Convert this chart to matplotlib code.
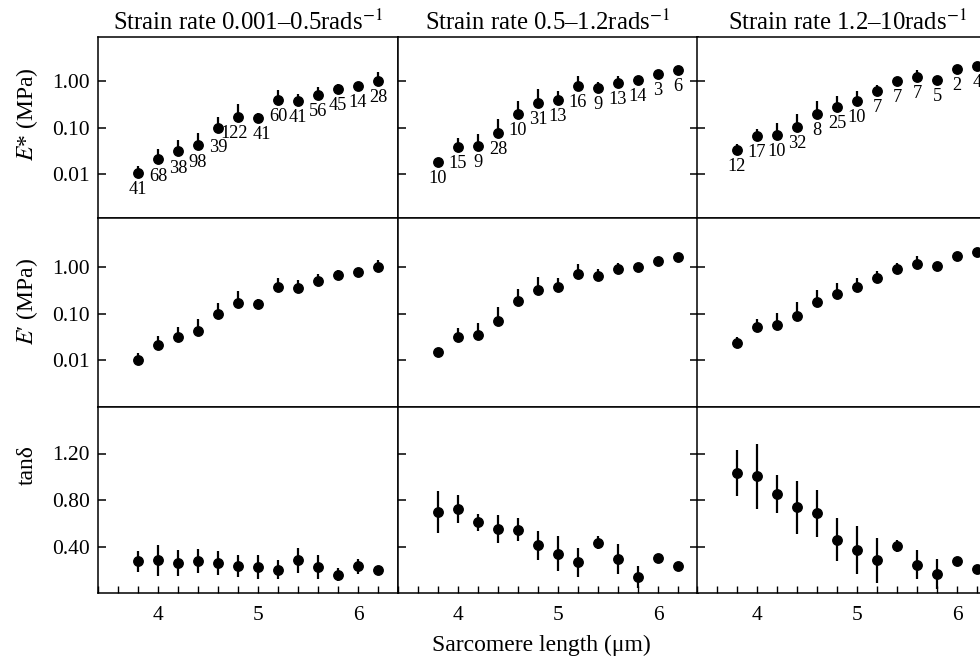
import matplotlib
matplotlib.use("Agg")
import matplotlib.pyplot as plt
from matplotlib.ticker import MultipleLocator, NullLocator

plt.rcParams['font.family'] = ['Liberation Serif', 'DejaVu Serif']
plt.rcParams['mathtext.fontset'] = 'stix'

# ---------------- data ----------------
sarcomere = [3.8, 4.0, 4.2, 4.4, 4.6, 4.8, 5.0, 5.2, 5.4, 5.6, 5.8, 6.0, 6.2]
titles = ["Strain rate 0.001\u20130.5rads$^{-1}$",
          "Strain rate 0.5\u20131.2rads$^{-1}$",
          "Strain rate 1.2\u201310rads$^{-1}$"]

# E* (MPa)
estar_low = [0.0107, 0.021, 0.031, 0.042, 0.10, 0.17, 0.163, 0.39, 0.377, 0.515, 0.69, 0.79, 1.03]
estar_low_err = [0.0042, 0.0134, 0.0225, 0.0368, 0.075, 0.149, 0.046, 0.25, 0.164, 0.239, 0.193, 0.05, 0.554]
n_low = [41, 68, 38, 98, 39, 122, 41, 60, 41, 56, 45, 14, 28]

estar_mid = [0.0184, 0.0386, 0.040, 0.077, 0.20, 0.347, 0.39, 0.78, 0.72, 0.93, 1.05, 1.44, 1.75]
estar_mid_err = [0.0026, 0.0217, 0.035, 0.079, 0.186, 0.347, 0.219, 0.50, 0.249, 0.34, 0.0, 0.0, 0.0]
n_mid = [10, 15, 9, 28, 10, 31, 13, 16, 9, 13, 14, 3, 6]

estar_high = [0.0328, 0.0667, 0.069, 0.104, 0.20, 0.28, 0.377, 0.61, 1.00, 1.24, 1.08, 1.81, 2.13]
estar_high_err = [0.0129, 0.0291, 0.0579, 0.097, 0.168, 0.203, 0.233, 0.24, 0.237, 0.487, 0.0, 0.0, 0.0]
n_high = [12, 17, 10, 32, 8, 25, 10, 7, 7, 7, 5, 2, 4]

# E' (MPa)
eprime_low = [0.0103, 0.021, 0.031, 0.042, 0.099, 0.17, 0.163, 0.38, 0.36, 0.50, 0.67, 0.78, 1.00]
eprime_low_err = [0.0040, 0.0118, 0.0198, 0.0352, 0.0718, 0.133, 0.049, 0.204, 0.167, 0.218, 0.188, 0.0, 0.464]

eprime_mid = [0.0151, 0.0317, 0.0356, 0.069, 0.186, 0.33, 0.377, 0.73, 0.64, 0.92, 1.01, 1.35, 1.67]
eprime_mid_err = [0.0, 0.0178, 0.028, 0.069, 0.163, 0.277, 0.212, 0.467, 0.279, 0.318, 0.0, 0.0, 0.0]

eprime_high = [0.0236, 0.0513, 0.0566, 0.0883, 0.18, 0.267, 0.37, 0.59, 0.92, 1.19, 1.08, 1.72, 2.13]
eprime_high_err = [0.0082, 0.026, 0.0475, 0.0883, 0.151, 0.194, 0.216, 0.232, 0.318, 0.519, 0.0, 0.0, 0.0]

# tan delta
tan_low = [0.271, 0.28, 0.26, 0.274, 0.257, 0.234, 0.223, 0.20, 0.28, 0.223, 0.157, 0.229, 0.194]
tan_low_err = [0.094, 0.133, 0.114, 0.103, 0.10, 0.093, 0.10, 0.081, 0.104, 0.103, 0.056, 0.064, 0.03]

tan_mid = [0.70, 0.722, 0.608, 0.551, 0.546, 0.409, 0.337, 0.265, 0.434, 0.291, 0.137, 0.30, 0.229]
tan_mid_err = [0.181, 0.123, 0.074, 0.117, 0.10, 0.126, 0.15, 0.126, 0.056, 0.129, 0.097, 0.0, 0.0]

tan_high = [1.031, 1.005, 0.851, 0.737, 0.685, 0.457, 0.371, 0.28, 0.405, 0.242, 0.165, 0.271, 0.205]
tan_high_err = [0.196, 0.279, 0.16, 0.229, 0.203, 0.186, 0.207, 0.194, 0.05, 0.124, 0.13, 0.0, 0.0]

log_ticks = [0.01, 0.1, 1.0]
log_ticklabels = ["0.01", "0.10", "1.00"]
tan_ticks = [0.4, 0.8, 1.2]
tan_ticklabels = ["0.40", "0.80", "1.20"]
x_ticks = [4, 5, 6]

estar = [(estar_low, estar_low_err), (estar_mid, estar_mid_err), (estar_high, estar_high_err)]
eprime = [(eprime_low, eprime_low_err), (eprime_mid, eprime_mid_err), (eprime_high, eprime_high_err)]
tand = [(tan_low, tan_low_err), (tan_mid, tan_mid_err), (tan_high, tan_high_err)]
counts = [n_low, n_mid, n_high]

# ---------------- figure ----------------
W, H = 980, 661
fig = plt.figure(figsize=(W / 100, H / 100), dpi=100)

col_left = [98, 398, 697]
col_w = 300
rows = [(37, 218), (218, 407), (407, 593)]

def px_axes(x0, y0, x1, y1):
    return fig.add_axes([x0 / W, 1 - y1 / H, (x1 - x0) / W, (y1 - y0) / H])

mk = dict(fmt='o', color='black', ms=6.8, elinewidth=1.6, capsize=0, zorder=3)
tick_fs = 15.5
# small nudges (points) for crowded count labels: (column, index) -> (dx, dy)
label_nudge = {(0, 4): (0.0, -14.5), (0, 5): (-2.5, -12), (0, 6): (2.5, -12)}

for c in range(3):
    for r in range(3):
        y0, y1 = rows[r]
        ax = px_axes(col_left[c], y0, col_left[c] + col_w, y1)
        ax.set_xlim(3.4, 6.4)
        for sp in ax.spines.values():
            sp.set_linewidth(1.1)
        if r < 2:
            ax.set_yscale('log')
            data, err = (estar if r == 0 else eprime)[c]
            ax.errorbar(sarcomere, data, yerr=[[0] * len(err), err], **mk)
            if r == 0:
                ax.set_ylim(0.00115, 8.97)
                for i, (xv, yv, n) in enumerate(zip(sarcomere, data, counts[c])):
                    ax.annotate(str(n), (xv, yv), xytext=label_nudge.get((c, i), (0, -12)),
                                textcoords='offset points', ha='center',
                                va='center', fontsize=13.2)
            else:
                ax.set_ylim(0.00099, 11.5)
            ax.set_yticks(log_ticks)
            ax.yaxis.set_minor_locator(NullLocator())
            if c == 0:
                ax.set_yticklabels(log_ticklabels)
        else:
            data, err = tand[c]
            ax.errorbar(sarcomere, data, yerr=err, **mk)
            ax.set_ylim(0.0, 1.6)
            ax.set_yticks(tan_ticks)
            if c == 0:
                ax.set_yticklabels(tan_ticklabels)
        if c != 0:
            ax.tick_params(axis='y', labelleft=False)
        ax.tick_params(axis='y', which='both', direction='in', length=6, width=1.1,
                       left=True, right=(c == 1), labelsize=tick_fs, pad=6)
        if r == 2:
            ax.set_xticks(x_ticks)
            ax.xaxis.set_minor_locator(MultipleLocator(0.2))
            ax.tick_params(axis='x', which='both', direction='in', length=5,
                           width=1.0, bottom=True, top=False, labelsize=tick_fs, pad=9)
        else:
            ax.set_xticks([])
            ax.xaxis.set_minor_locator(NullLocator())
        if r == 0:
            ax.set_title(titles[c], fontsize=17.8, pad=5)

fig.text(27 / W, 1 - 114 / H, "$E$* (MPa)", rotation=90, ha='center', va='center', fontsize=17)
fig.text(27 / W, 1 - 302 / H, "$E$\u2032 (MPa)", rotation=90, ha='center', va='center', fontsize=17)
fig.text(27 / W, 1 - 465 / H, "tan\u03b4", rotation=90, ha='center', va='center', fontsize=17)
fig.text(541 / W, 1 - 645 / H, "Sarcomere length (\u03bcm)", ha='center', va='center', fontsize=17)

fig.savefig("out.png", dpi=100)
